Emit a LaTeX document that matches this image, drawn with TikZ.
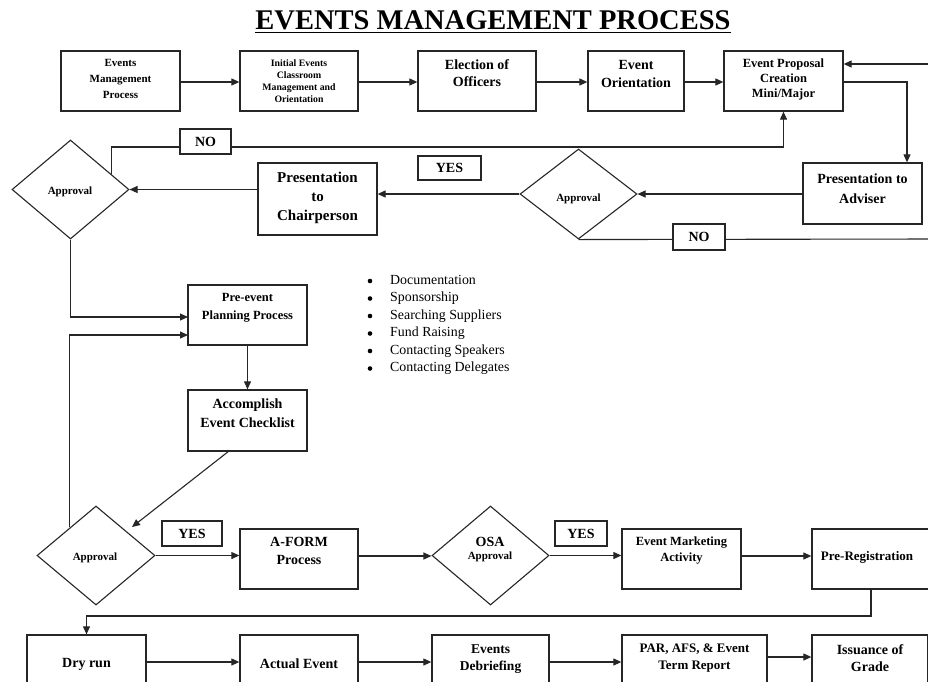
\documentclass[tikz,border=0pt]{standalone}
\usepackage{fontspec}
\setmainfont{Liberation Serif}
\usetikzlibrary{arrows.meta,shapes.geometric,calc}
\newcommand\myfs[2]{\fontsize{#1}{#2}\selectfont}
\begin{document}
\begin{tikzpicture}[x=1pt,y=-1pt,
  box/.style={draw=black!85, line width=1.3pt, rectangle, inner sep=0pt, fill=white},
  dia/.style={draw=black!85, line width=1.1pt, diamond, inner sep=0pt, fill=white},
  lab/.style={draw=black!85, line width=1.3pt, rectangle, fill=white, inner sep=0pt, font=\bfseries\myfs{14}{16}},
  txt/.style={font=\bfseries, align=center, inner sep=0pt, text=black},
  arr/.style={draw=black!85, line width=1.1pt, -{Triangle[length=8pt,width=7pt]}},
  ln/.style={draw=black!85, line width=1.1pt},
  dot/.style={circle, fill=black, inner sep=0pt, minimum size=4.6pt},
]
\useasboundingbox (0,0) rectangle (928,681);
\clip (0,0) rectangle (928,681);

% title
\node[font=\bfseries\myfs{28.5}{30}, anchor=base, inner sep=0pt] (title) at (493,29) {EVENTS MANAGEMENT PROCESS};
\coordinate (ul) at (0,32.5);
\draw[line width=1.8pt] (title.base west |- ul) -- (title.base east |- ul);

% boxes
\node[box, minimum width=119pt, minimum height=60pt] (b1) at (120.5,81) {};
\node[box, minimum width=118pt, minimum height=60pt] (b2) at (299,81) {};
\node[box, minimum width=118pt, minimum height=60pt] (b3) at (477,81) {};
\node[box, minimum width=96pt, minimum height=60pt] (b4) at (636,81) {};
\node[box, minimum width=119pt, minimum height=60pt] (b5) at (783.5,81) {};
\node[box, minimum width=119pt, minimum height=61pt] (adv) at (862.5,193.5) {};
\node[box, minimum width=119pt, minimum height=72pt] (ch) at (317.5,199) {};
\node[box, minimum width=119pt, minimum height=60pt] (pre) at (247.5,315) {};
\node[box, minimum width=119pt, minimum height=61pt] (acc) at (247.5,420.5) {};
\node[box, minimum width=118pt, minimum height=60pt] (af) at (299,559) {};
\node[box, minimum width=119pt, minimum height=60pt] (em) at (681.5,559) {};
\node[box, minimum width=118pt, minimum height=60pt] (pr) at (871,559) {};
\node[box, minimum width=119pt, minimum height=60pt] (dry) at (86.5,665) {};
\node[box, minimum width=118pt, minimum height=60pt] (act) at (299,665) {};
\node[box, minimum width=117pt, minimum height=60pt] (deb) at (490.5,665) {};
\node[box, minimum width=145pt, minimum height=60pt] (par) at (694.5,665) {};
\node[box, minimum width=116pt, minimum height=60pt] (iss) at (870,665) {};

% diamonds
\node[dia, minimum width=117pt, minimum height=99pt] (d1) at (70.5,189.5) {};
\node[dia, minimum width=117pt, minimum height=90pt] (d2) at (578.5,194) {};
\node[dia, minimum width=118pt, minimum height=99pt] (d3) at (96,555.5) {};
\node[dia, minimum width=117pt, minimum height=99pt] (osa) at (490.5,555.5) {};

% texts
\node[txt, font=\bfseries\myfs{11}{16}] (t1) at (120.5,79) {Events\\Management\\Process};
\node[txt, font=\bfseries\myfs{9.8}{12.2}] (t2) at (299,81) {Initial Events\\Classroom\\Management and\\Orientation};
\node[txt, font=\bfseries\myfs{14}{17}] (t3) at (477,73.5) {Election of\\Officers};
\node[txt, font=\bfseries\myfs{14}{17.5}] (t4) at (636,74) {Event\\Orientation};
\node[txt, font=\bfseries\myfs{12.5}{15}] (t5) at (783.5,79) {Event Proposal\\Creation\\Mini/Major};
\node[txt, font=\bfseries\myfs{14}{20}] (tadv) at (862.5,188.3) {Presentation to\\Adviser};
\node[txt, font=\bfseries\myfs{15}{19}] (tch) at (317.5,198) {Presentation\\to\\Chairperson};
\node[txt, font=\bfseries\myfs{12.5}{17.5}] (tpre) at (247.5,308) {Pre-event\\Planning Process};
\node[txt, font=\bfseries\myfs{14}{19}] (tacc) at (247.5,413.5) {Accomplish\\Event Checklist};
\node[txt, font=\bfseries\myfs{14}{17.5}] (taf) at (299,551) {A-FORM\\Process};
\node[txt, font=\bfseries\myfs{12.5}{16}] (tem) at (681.5,550) {Event Marketing\\Activity};
\node[txt, font=\bfseries\myfs{13}{16}] (tpr) at (867,557) {Pre-Registration};
\node[txt, font=\bfseries\myfs{14}{17}] (tdry) at (86.5,664) {Dry run};
\node[txt, font=\bfseries\myfs{14}{17}] (tact) at (299,664) {Actual Event};
\node[txt, font=\bfseries\myfs{13.5}{17}] (tdeb) at (490.5,659.5) {Events\\Debriefing};
\node[txt, font=\bfseries\myfs{13}{17}] (tpar) at (694.5,658.5) {PAR, AFS, \& Event\\Term Report};
\node[txt, font=\bfseries\myfs{14}{17}] (tiss) at (870,658.5) {Issuance of\\Grade};
\node[txt, font=\bfseries\myfs{11}{13}] (td1) at (70,192) {Approval};
\node[txt, font=\bfseries\myfs{11}{13}] (td2) at (578.5,199) {Approval};
\node[txt, font=\bfseries\myfs{11}{13}] (td3) at (95,558) {Approval};
\node[txt, font=\bfseries\myfs{14}{16}] (tosa1) at (490,542) {OSA};
\node[txt, font=\bfseries\myfs{11}{13}] (tosa2) at (490,557) {Approval};

% bullet list
\foreach \t [count=\i] in {Documentation, Sponsorship, Searching Suppliers, Fund Raising, Contacting Speakers, Contacting Delegates} {
  \node[anchor=mid west, font=\myfs{13.9}{16}, inner sep=0pt] (bl\i) at (390,{282+17.5*(\i-1)}) {\t};
  \node[dot] (bb\i) at (370,{281+17.5*(\i-1)}) {};
}

% coordinates
\coordinate (yt) at (0,82);
\coordinate (inR) at (935,64);
\coordinate (c1) at (907,82);
\coordinate (nol) at (0,147);
\coordinate (outR) at (935,239);
\coordinate (pin1) at (188,317);
\coordinate (pin2) at (188,335);
\coordinate (accb) at (229,451);
\coordinate (d3tip) at (132,527);
\coordinate (ym) at (0,556);
\coordinate (drop) at (0,616);
\coordinate (ya) at (0,662);
\coordinate (yb) at (0,657);
\coordinate (d1ne) at ($(d1.north)!0.695!(d1.east)$);
\coordinate (d3nw) at ($(d3.north)!0.44!(d3.west)$);

% connectors
\draw[arr] (b1.east |- yt) -- (b2.west |- yt);
\draw[arr] (b2.east |- yt) -- (b3.west |- yt);
\draw[arr] (b3.east |- yt) -- (b4.west |- yt);
\draw[arr] (b4.east |- yt) -- (b5.west |- yt);
\draw[arr] (inR) -- (inR -| b5.east);
\draw[arr] (b5.east |- yt) -- (c1) -- (c1 |- adv.north);
\draw[arr] (d2.east -| adv.west) -- (d2.east);
\draw[arr] (d2.west) -- (d2.west -| ch.east);
\draw[arr] (d1.east -| ch.west) -- (d1.east);
\draw[arr] (d1ne) -- (d1ne |- nol) -- (b5.south |- nol) -- (b5.south);
\draw[ln] (d2.south) -- (outR);
\draw[arr] (d1.south) |- (pin1);
\draw[arr] (d3nw) |- (pin2);
\draw[arr] (pre.south) -- (acc.north);
\draw[arr] (accb) -- (d3tip);
\draw[arr] (d3.east) -- (d3.east -| af.west);
\draw[arr] (af.east |- ym) -- (osa.west |- ym);
\draw[arr] (osa.east) -- (osa.east -| em.west);
\draw[arr] (em.east |- ym) -- (pr.west |- ym);
\draw[arr] (pr.south) -- (pr.south |- drop) -| (dry.north);
\draw[arr] (dry.east |- ya) -- (act.west |- ya);
\draw[arr] (act.east |- ya) -- (deb.west |- ya);
\draw[arr] (deb.east |- ya) -- (par.west |- ya);
\draw[arr] (par.east |- yb) -- (iss.west |- yb);

% labels
\node[lab, minimum width=51pt, minimum height=25pt] (no1) at (205.5,141.5) {NO};
\node[lab, minimum width=63pt, minimum height=24pt] (yes1) at (449.5,168) {YES};
\node[lab, minimum width=52pt, minimum height=26pt] (no2) at (699,237) {NO};
\node[lab, minimum width=60pt, minimum height=25pt] (yes2) at (192,533.5) {YES};
\node[lab, minimum width=52pt, minimum height=25pt] (yes3) at (581,533.5) {YES};
\end{tikzpicture}
\end{document}
